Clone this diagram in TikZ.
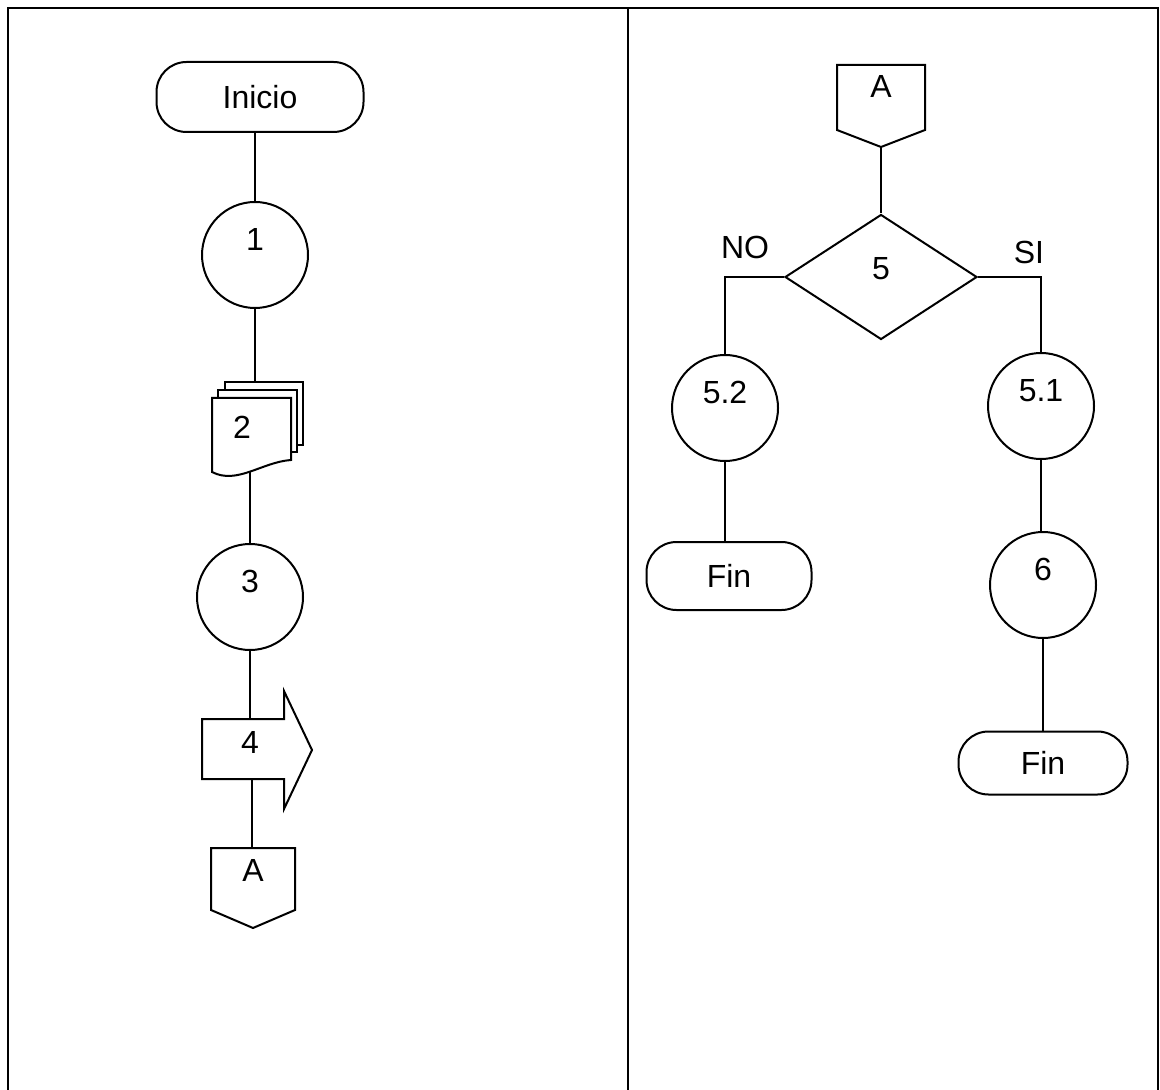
\documentclass[tikz,border=0pt]{standalone}
\usepackage{fontspec}
\setmainfont{Liberation Sans}
\usetikzlibrary{shapes.geometric}

\begin{document}
\begin{tikzpicture}[x=0.5pt,y=-0.5pt,line width=1pt,
		font=\fontsize{16pt}{19pt}\selectfont,
		node distance=80pt,
		term/.style={rectangle,draw,rounded corners=15pt,inner sep=0pt},
		proc/.style={circle,draw,minimum size=53pt,inner sep=0pt,text height=11.5pt,text depth=16pt},
		decision/.style={diamond,draw,minimum width=96pt,minimum height=62.5pt,inner sep=0pt,text height=11.5pt,text depth=9pt},
		panel/.style={line width=1.4pt}]
				\useasboundingbox (0,0) rectangle (1160,1090);
				\draw [panel] (8,1090) -- (8,8) -- (1158,8) -- (1158,1090);
				\draw [panel] (628,8) -- (628,1090);

				\node (ini) [term,minimum width=103.5pt,minimum height=35pt] at (260,97) {Inicio};
				\node (c1) [proc,below of=ini,xshift=-2.5pt,yshift=1pt] {1};
				\node (doc) [below of=c1,xshift=-6.5pt,yshift=-6pt] {2};
				\node (c3) [proc,below of=doc,xshift=4pt,yshift=-5pt] {3};
				\node (arr) [below of=c3,yshift=7.5pt] {4};
				\node (offA) [below of=arr,xshift=1.5pt,yshift=16pt] {A};

				\node (offB) at (881,86) {A};
				\node (dia) [decision,below of=offB,yshift=-15.5pt] {5};
				\node (no) at (745,247) {NO};
				\node (si) at (1029,252) {SI};
				\node (c52) [proc] at (725,408) {5.2};
				\node (c51) [proc] at (1041,406) {5.1};
				\node (fin1) [term,minimum width=82.5pt,minimum height=34pt,below of=c52,xshift=2pt,yshift=-4pt] {Fin};
				\node (c6) [proc,below of=c51,xshift=1pt,yshift=-9.5pt] {6};
				\node (fin2) [term,minimum width=84.5pt,minimum height=31.5pt,below of=c6,yshift=-9pt] {Fin};

				\begin{scope}[shift={(doc.center)}]
				\draw (-17,-37) -- (-17,-45) -- (61,-45) -- (61,18) -- (55,18);
				\draw (-24,-29) -- (-24,-37) -- (55,-37) -- (55,25) -- (49,25);
				\draw (-30,45) -- (-30,-29) -- (49,-29) -- (49,33) .. controls (20,35) and (-5,58) .. cycle;
				\coordinate (doc-in) at (15,-45);
				\coordinate (doc-out) at (8,45);
				\end{scope}
				\begin{scope}[shift={(arr.center)}]
				\draw (-48,-23) -- (34,-23) -- (34,-51) -- (62,8) -- (34,67) -- (34,37) -- (-48,37) -- cycle;
				\coordinate (arr-in) at (2,-23);
				\coordinate (arr-out) at (2,37);
				\end{scope}
				\begin{scope}[shift={(offA.center)}]
				\draw (-42,-22) -- (42,-22) -- (42,40) -- (0,58) -- (-42,40) -- cycle;
				\coordinate (offA-in) at (-1,-22);
				\end{scope}
				\begin{scope}[shift={(offB.center)}]
				\draw (-44,-21) -- (44,-21) -- (44,44) -- (0,61) -- (-44,44) -- cycle;
				\coordinate (offB-out) at (0,61);
				\end{scope}

				\draw (c1.north) -- (c1.north |- ini.south);
				\draw (c1.south) -- (c1.south |- doc-in);
				\draw (doc-out) -- (doc-out |- c3.north);
				\draw (c3.south) -- (c3.south |- arr-in);
				\draw (arr-out) -- (arr-out |- offA-in);
				\draw (offB-out) -- (dia.north);
				\draw (dia.west) -| (c52.north);
				\draw (dia.east) -| (c51.north);
				\draw (c52.south) -- (c52.south |- fin1.north);
				\draw (c51.south) -- (c51.south |- c6.north);
				\draw (c6.south) -- (c6.south |- fin2.north);
			\end{tikzpicture}
\end{document}
